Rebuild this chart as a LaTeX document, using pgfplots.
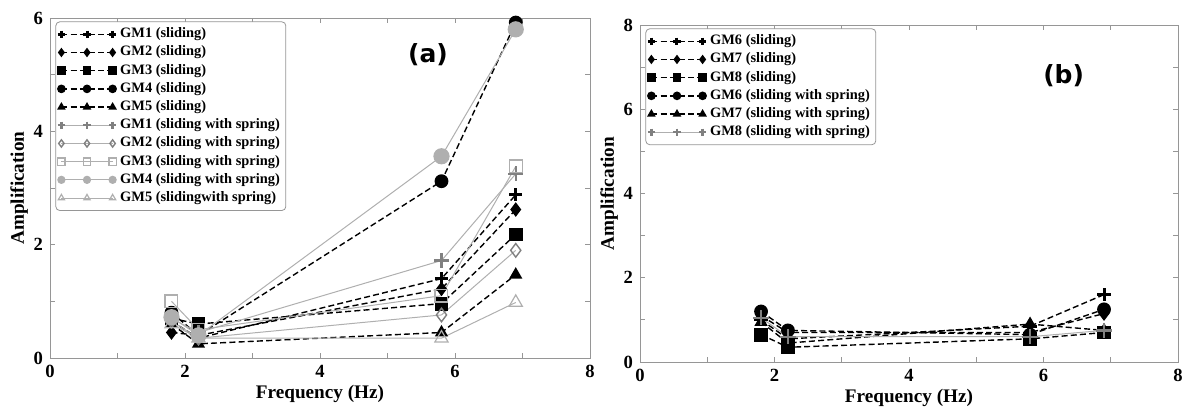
\documentclass[border=0pt]{standalone}
\usepackage{fontspec}
\setmainfont{Liberation Serif}
\newfontfamily\tagfont{DejaVu Sans}
\usepackage{pgfplots}
\pgfplotsset{compat=1.18}

\definecolor{axgray}{RGB}{150,150,150}
\definecolor{sprgray}{RGB}{175,175,175}

\pgfplotsset{
  panel/.style={
    scale only axis,
    xmin=0, xmax=8,
    xtick={0,2,4,6,8},
    xticklabels={\textrm{0},\textrm{2},\textrm{4},\textrm{6},\textrm{8}},
    minor xtick={1,3,5,7},
    axis line style={axgray},
    tick style={axgray, thin},
    major tick length=2.5pt,
    minor tick length=2.5pt,
    tick align=inside,
    tick label style={font=\rmfamily\bfseries\fontsize{9.3}{9}\selectfont},
    label style={font=\rmfamily\bfseries\fontsize{9.6}{10}\selectfont},
    xlabel={Frequency (Hz)},
    ylabel={Amplification},
    xlabel style={yshift=3pt},
    ylabel style={yshift=-4pt},
    legend style={
      at={(0.01,0.99)}, anchor=north west,
      draw=axgray, rounded corners=2pt,
      font=\rmfamily\bfseries\fontsize{7.2}{7.5}\selectfont,
      inner sep=1pt, row sep=-1.4pt,
      cells={anchor=west},
    },
    legend image code/.code={
      \draw[#1, mark size=1.8pt] plot coordinates {(0cm,0cm) (0.45cm,0cm) (0.9cm,0cm)};
    },
  },
  sld/.style={black, line width=0.7pt, dash pattern=on 3pt off 1.6pt, mark size=3.1pt},
  spr/.style={sprgray, line width=0.5pt, mark size=3.2pt},
}

\begin{document}
\begin{tikzpicture}

\begin{axis}[panel, width=270pt, height=170pt,
  ymin=0, ymax=6, ytick={0,2,4,6}, yticklabels={\textrm{0},\textrm{2},\textrm{4},\textrm{6}}, minor ytick={1,3,5}]
\addplot[sld, mark=+, mark options={solid, line width=1.5pt}, mark size=3.3pt] coordinates {(1.8,0.65) (2.2,0.35) (5.8,1.4) (6.9,2.88)};
\addlegendentry{GM1 (sliding)}
\addplot[sld, mark=diamond*, mark options={solid, fill=black}] coordinates {(1.8,0.45) (2.2,0.4) (5.8,1.22) (6.9,2.62)};
\addlegendentry{GM2 (sliding)}
\addplot[sld, mark=square*, mark options={solid, fill=black}] coordinates {(1.8,0.7) (2.2,0.6) (5.8,0.96) (6.9,2.18)};
\addlegendentry{GM3 (sliding)}
\addplot[sld, mark=*, mark options={solid, fill=black}] coordinates {(1.8,0.8) (2.2,0.4) (5.8,3.12) (6.9,5.92)};
\addlegendentry{GM4 (sliding)}
\addplot[sld, mark=triangle*, mark options={solid, fill=black}] coordinates {(1.8,0.6) (2.2,0.25) (5.8,0.45) (6.9,1.47)};
\addlegendentry{GM5 (sliding)}
\addplot[spr, mark=+, mark options={solid, gray, line width=1.2pt}, mark size=3.8pt] coordinates {(1.8,0.7) (2.2,0.45) (5.8,1.72) (6.9,3.25)};
\addlegendentry{GM1 (sliding with spring)}
\addplot[spr, mark=diamond, mark options={solid, gray, line width=0.7pt}, mark size=3.4pt] coordinates {(1.8,0.65) (2.2,0.35) (5.8,0.76) (6.9,1.9)};
\addlegendentry{GM2 (sliding with spring)}
\addplot[spr, mark=square, mark options={solid, sprgray, line width=0.6pt}] coordinates {(1.8,1.0) (2.2,0.5) (5.8,1.1) (6.9,3.38)};
\addlegendentry{GM3 (sliding with spring)}
\addplot[spr, mark=*, mark options={solid, fill=sprgray, draw=sprgray}, mark size=3.8pt] coordinates {(1.8,0.72) (2.2,0.4) (5.8,3.56) (6.9,5.8)};
\addlegendentry{GM4 (sliding with spring)}
\addplot[spr, mark=triangle, mark options={solid, sprgray, line width=0.6pt}, mark size=3.8pt] coordinates {(1.8,0.6) (2.2,0.35) (5.8,0.35) (6.9,0.98)};
\addlegendentry{GM5 (slidingwith spring)}
\node[font=\tagfont\bfseries\fontsize{12.5}{13}\selectfont] at (axis cs:5.6,5.35) {(a)};
\end{axis}

\begin{axis}[panel, width=269pt, height=168.5pt, xshift=295pt, yshift=-2pt,
  ymin=0, ymax=8, ytick={0,2,4,6,8}, yticklabels={\textrm{0},\textrm{2},\textrm{4},\textrm{6},\textrm{8}}, minor ytick={1,3,5,7}]
\addplot[sld, mark=+, mark options={solid, line width=1.5pt}, mark size=3.3pt] coordinates {(1.8,1.0) (2.2,0.55) (5.8,0.85) (6.9,1.6)};
\addlegendentry{GM6 (sliding)}
\addplot[sld, mark=diamond*, mark options={solid, fill=black}] coordinates {(1.8,1.1) (2.2,0.7) (5.8,0.7) (6.9,1.15)};
\addlegendentry{GM7 (sliding)}
\addplot[sld, mark=square*, mark options={solid, fill=black}] coordinates {(1.8,0.65) (2.2,0.35) (5.8,0.55) (6.9,0.7)};
\addlegendentry{GM8 (sliding)}
\addplot[sld, mark=*, mark options={solid, fill=black}] coordinates {(1.8,1.2) (2.2,0.75) (5.8,0.65) (6.9,1.25)};
\addlegendentry{GM6 (sliding with spring)}
\addplot[sld, mark=triangle*, mark options={solid, fill=black}] coordinates {(1.8,0.95) (2.2,0.45) (5.8,0.9) (6.9,0.75)};
\addlegendentry{GM7 (sliding with spring)}
\addplot[spr, mark=+, mark options={solid, gray, line width=1.2pt}, mark size=3.8pt] coordinates {(1.8,1.05) (2.2,0.6) (5.8,0.6) (6.9,0.75)};
\addlegendentry{GM8 (sliding with spring)}
\node[font=\tagfont\bfseries\fontsize{12.5}{13}\selectfont] at (axis cs:6.3,6.8) {(b)};
\end{axis}

\pgfresetboundingbox
\useasboundingbox (-25pt,-25pt) rectangle (566pt,179pt);
\end{tikzpicture}
\end{document}
